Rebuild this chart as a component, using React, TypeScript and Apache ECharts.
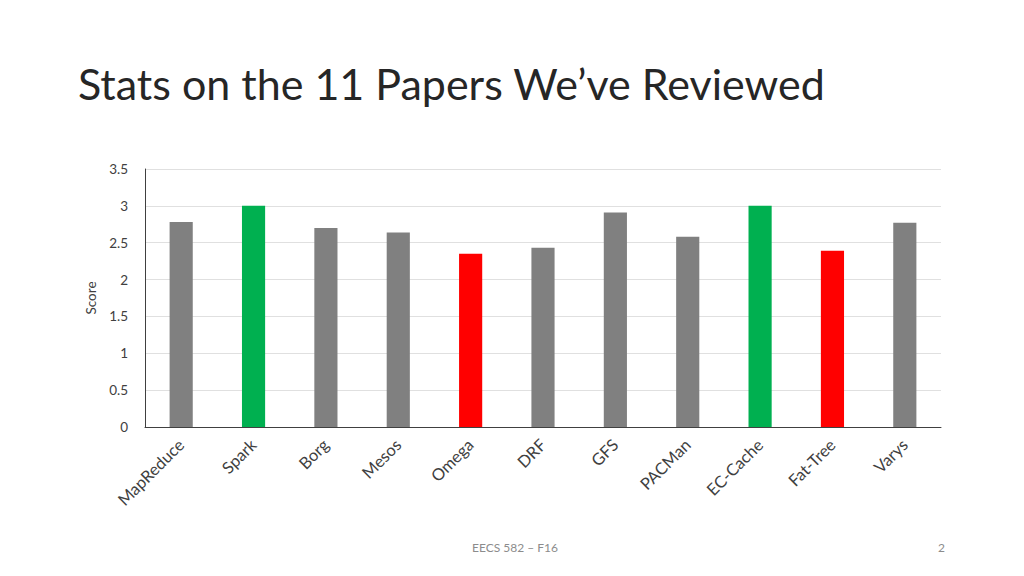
import React, { useEffect, useRef } from "react";
import * as echarts from "echarts";

const categories = ["MapReduce", "Spark", "Borg", "Mesos", "Omega", "DRF", "GFS", "PACMan", "EC-Cache", "Fat-Tree", "Varys"];
const scores = [2.78, 3.0, 2.7, 2.64, 2.35, 2.43, 2.91, 2.58, 3.0, 2.39, 2.77];
const barKinds = ["mid", "top", "mid", "mid", "low", "mid", "mid", "mid", "top", "low", "mid"];
const yTicks = [0, 0.5, 1, 1.5, 2, 2.5, 3, 3.5];

const kindColor: Record<string, string> = { mid: "#808080", top: "#00B050", low: "#FF0000" };

export default function App() {
  const ref = useRef<HTMLDivElement>(null);
  useEffect(() => {
    if (!ref.current) return;
    const chart = echarts.init(ref.current, undefined, { renderer: "svg" });
    const font = "Lato, 'Open Sans', sans-serif";
    chart.setOption({
      animation: false,
      backgroundColor: "#ffffff",
      textStyle: { fontFamily: font },
      grid: { left: 145, right: 83, top: 169, bottom: 149, containLabel: false },
      xAxis: {
        type: "category",
        data: categories,
        axisLine: { show: true, lineStyle: { color: "#404040", width: 1 } },
        axisTick: { show: false },
        axisLabel: { rotate: 45, color: "#404040", fontSize: 16.5, fontFamily: font, margin: 15, interval: 0 },
      },
      yAxis: {
        type: "value",
        min: yTicks[0],
        max: yTicks[yTicks.length - 1],
        interval: 0.5,
        name: "Score",
        nameLocation: "middle",
        nameGap: 44,
        nameTextStyle: { color: "#404040", fontSize: 13.5, fontFamily: font },
        axisLine: { show: true, lineStyle: { color: "#404040", width: 1 } },
        axisTick: { show: false },
        axisLabel: { color: "#404040", fontSize: 13.5, fontFamily: font, margin: 17 },
        splitLine: { show: true, lineStyle: { color: "#e0e0e0", width: 1 } },
      },
      series: [
        {
          type: "bar",
          barWidth: "32%",
          data: scores.map((v, i) => ({ value: v, itemStyle: { color: kindColor[barKinds[i]] } })),
        },
      ],
      graphic: [
        {
          type: "text",
          left: 78,
          top: 62,
          style: { text: "Stats on the 11 Papers We\u2019ve Reviewed", fill: "#262626", fontSize: 43, fontFamily: font },
        },
        {
          type: "text",
          left: 512 - 40,
          top: 541,
          style: { text: "EECS 582 \u2013 F16", fill: "#8c8c8c", fontSize: 12, fontFamily: font },
        },
        {
          type: "text",
          left: 938,
          top: 541,
          style: { text: "2", fill: "#8c8c8c", fontSize: 12, fontFamily: font },
        },
      ],
    });
    return () => chart.dispose();
  }, []);
  return <div ref={ref} style={{ position: "fixed", left: 0, top: 0, width: 1024, height: 576 }} />;
}
